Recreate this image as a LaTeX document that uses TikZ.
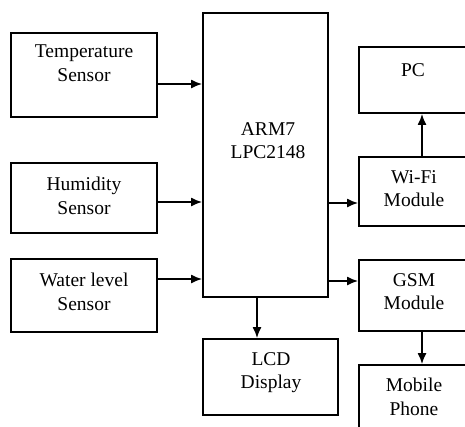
\documentclass[tikz,border=0pt]{standalone}
\usepackage{fontspec}
\setmainfont{Liberation Serif}
\usetikzlibrary{arrows.meta}

\begin{document}
\begin{tikzpicture}[x=1pt, y=-1pt,
  box/.style={draw, line width=1.8pt, inner sep=0pt},
  txt/.style={anchor=north, inner sep=0pt, align=center, font=\fontsize{19.5}{23.5}\selectfont},
  arr/.style={line width=1.6pt, -{Latex[length=11pt,width=9pt]}}]
\useasboundingbox (0,0) rectangle (465,426);
\clip (0,0) rectangle (465,426);

% sensors
\node[box, minimum width=146pt, minimum height=84pt] (temp) at (84,75) {};
\node[box, minimum width=146pt, minimum height=70pt] (hum) at (84,198) {};
\node[box, minimum width=146pt, minimum height=73pt] (water) at (84,295.5) {};
\node[txt] (temptxt) at (84,45) {Temperature\\Sensor};
\node[txt] (humtxt) at (84,177) {Humidity\\Sensor};
\node[txt] (watertxt) at (84,273) {Water level\\Sensor};

% controller and display
\node[box, minimum width=125pt, minimum height=284pt] (arm) at (265.5,155) {};
\node[box, minimum width=135pt, minimum height=76pt] (lcd) at (270.5,377) {};
\node[txt] (armtxt) at (268,122) {ARM7\\ LPC2148};
\node[txt] (lcdtxt) at (271,352) {LCD\\Display};

% outputs
\node[box, minimum width=108pt, minimum height=66pt] (pc) at (413,80) {};
\node[box, minimum width=108pt, minimum height=69pt] (wifi) at (413,191.5) {};
\node[box, minimum width=108pt, minimum height=71pt] (gsm) at (413,295.5) {};
\node[box, minimum width=108pt, minimum height=80pt] (mobile) at (413,405) {};
\node[txt] (pctxt) at (413,63) {PC};
\node[txt] (wifitxt) at (414,170) {Wi-Fi\\Module};
\node[txt] (gsmtxt) at (414,273) {GSM\\Module};
\node[txt] (mobiletxt) at (414,378) {Mobile\\Phone};

% connections
\draw[arr] ([yshift=-9pt]temp.east) coordinate (t1) -- (t1 -| arm.west);
\draw[arr] ([yshift=-4pt]hum.east) coordinate (h1) -- (h1 -| arm.west);
\draw[arr] ([yshift=16.5pt]water.east) coordinate (w1) -- (w1 -| arm.west);
\draw[arr] ([yshift=-11.5pt]wifi.west) coordinate (m1) (m1 -| arm.east) -- (m1);
\draw[arr] ([yshift=14.5pt]gsm.west) coordinate (g1) (g1 -| arm.east) -- (g1);
\draw[arr] ([xshift=-8.5pt]arm.south) coordinate (a1) -- (a1 |- lcd.north);
\draw[arr] ([xshift=9pt]wifi.north) -- ([xshift=9pt]pc.south);
\draw[arr] ([xshift=9pt]gsm.south) -- ([xshift=9pt]mobile.north);
\end{tikzpicture}
\end{document}
